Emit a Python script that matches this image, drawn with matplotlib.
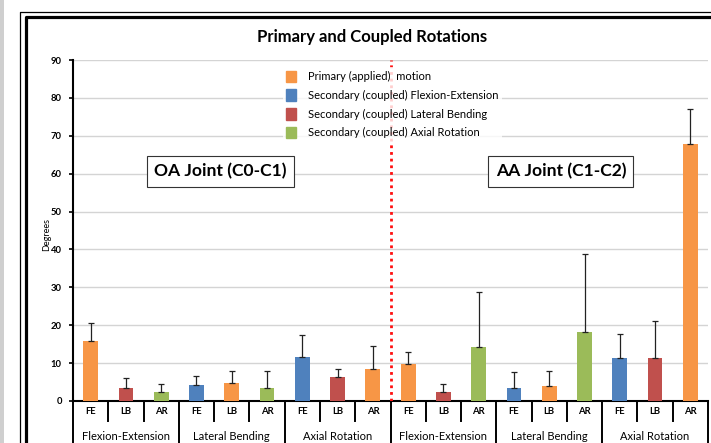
import matplotlib
matplotlib.use("Agg")
import matplotlib.pyplot as plt
from matplotlib.lines import Line2D
from matplotlib.patches import Rectangle
import matplotlib.transforms as mtransforms
import numpy as np

# ---- data ----
JOINTS = ["OA Joint (C0-C1)", "AA Joint (C1-C2)"]
GROUPS = ["Flexion-Extension", "Lateral Bending", "Axial Rotation",
          "Flexion-Extension", "Lateral Bending", "Axial Rotation"]
BAR_LABELS = ["FE", "LB", "AR"] * 6
MEANS = [15.8, 3.4, 2.4, 4.1, 4.8, 3.4, 11.6, 6.3, 8.4,
         9.8, 2.4, 14.2, 3.5, 4.0, 18.2, 11.4, 11.4, 67.8]
SDS = [4.9, 2.6, 2.0, 2.6, 3.1, 4.4, 5.7, 2.1, 6.0,
       3.1, 2.0, 14.7, 4.1, 3.9, 20.6, 6.2, 9.8, 9.2]
# motion shown by each bar: "P" = primary (applied), else the coupled axis
BAR_KIND = ["P", "LB", "AR", "FE", "P", "AR", "FE", "LB", "P",
            "P", "LB", "AR", "FE", "P", "AR", "FE", "LB", "P"]

COLORS = {"P": "#F79646", "FE": "#4F81BD", "LB": "#C0504D", "AR": "#9BBB59"}
LEGEND = [("P", "Primary (applied)  motion"),
          ("FE", "Secondary (coupled) Flexion-Extension"),
          ("LB", "Secondary (coupled) Lateral Bending"),
          ("AR", "Secondary (coupled) Axial Rotation")]

plt.rcParams["font.family"] = ["Lato", "DejaVu Sans"]

W, H = 711, 443
fig = plt.figure(figsize=(W / 100, H / 100), dpi=100)
ax = fig.add_axes([73 / W, 1 - 401 / H, 635 / W, 341 / H])

x = np.arange(len(MEANS))
ax.bar(x, MEANS, width=0.42, color=[COLORS[k] for k in BAR_KIND], zorder=3)
ax.errorbar(x, MEANS, yerr=[np.zeros(len(SDS)), SDS], fmt="none", ecolor="#222222",
            elinewidth=0.9, capsize=2.5, capthick=0.9, zorder=4)

ax.set_xlim(-0.5, len(MEANS) - 0.5)
ax.set_ylim(0, 90)
ax.set_yticks(np.arange(0, 91, 10))
ax.grid(axis="y", color="#d4d4d4", linewidth=1.0, zorder=0)
ax.set_xticks([])
ax.tick_params(axis="y", length=3, width=1.2, pad=5, labelsize=6.8)
for lab in ax.get_yticklabels():
    lab.set_fontweight("bold")
for s in ["top", "right"]:
    ax.spines[s].set_visible(False)
ax.spines["left"].set_linewidth(1.5)
ax.spines["bottom"].set_linewidth(1.5)

ax.text(-26 / 635, 0.487, "Degrees", transform=ax.transAxes, rotation=90,
        ha="center", va="center", fontsize=6.5)

# red divider between the two joints
ax.plot([8.5, 8.5], [0, 90], color="#ff1010", linewidth=2.0,
        linestyle=(0, (1, 1.4)), zorder=5)

# category table below the axis
trans = mtransforms.blended_transform_factory(ax.transData, ax.transAxes)
for i, lab in enumerate(BAR_LABELS):
    ax.text(i, -0.032, lab, transform=trans, ha="center", va="center",
            fontsize=6.8, fontweight="bold")
for g, name in enumerate(GROUPS):
    ax.text(3 * g + 1, -0.105, name, transform=trans, ha="center", va="center",
            fontsize=8)
for b in np.arange(-0.5, len(MEANS)):
    long_sep = int(b + 0.5) % 3 == 0
    ax.plot([b, b], [0, -0.2 if long_sep else -0.06], transform=trans,
            color="black", linewidth=1.4, clip_on=False)

# joint labels
for j, name in enumerate(JOINTS):
    ax.text(3.67 + 9.66 * j, 60.7, name, ha="center", va="center", fontsize=12.6,
            fontweight="bold", zorder=6,
            bbox=dict(boxstyle="square,pad=0.42", facecolor="white",
                      edgecolor="#333333", linewidth=0.8))

handles = [Rectangle((0, 0), 1, 1, color=COLORS[k]) for k, _ in LEGEND]
leg = ax.legend(handles, [t for _, t in LEGEND], loc="upper left",
                bbox_to_anchor=(0.322, 0.995), fontsize=8, frameon=True,
                handlelength=0.85, handleheight=1.2, handletextpad=1.1,
                labelspacing=0.66, borderpad=0.3, fancybox=False)
leg.get_frame().set_facecolor("white")
leg.get_frame().set_edgecolor("none")
leg.set_zorder(6)

fig.text(372 / W, 1 - 36.7 / H, "Primary and Coupled Rotations", ha="center",
         va="center", fontsize=12, fontweight="bold")

# chart frame (double border) and grey strip at the left
fig.add_artist(Rectangle((0, 0), 3.5 / W, 1, transform=fig.transFigure,
                         color="#cfcfcf", linewidth=0))
fig.add_artist(Line2D([19.5 / W, 19.5 / W, 1.0], [0, 1 - 11.5 / H, 1 - 11.5 / H],
                      transform=fig.transFigure, color="black", linewidth=0.9))
fig.add_artist(Line2D([26 / W, 26 / W, 1.0], [0, 1 - 17 / H, 1 - 17 / H],
                      transform=fig.transFigure, color="black", linewidth=2.3))

fig.savefig("out.png", dpi=100)
